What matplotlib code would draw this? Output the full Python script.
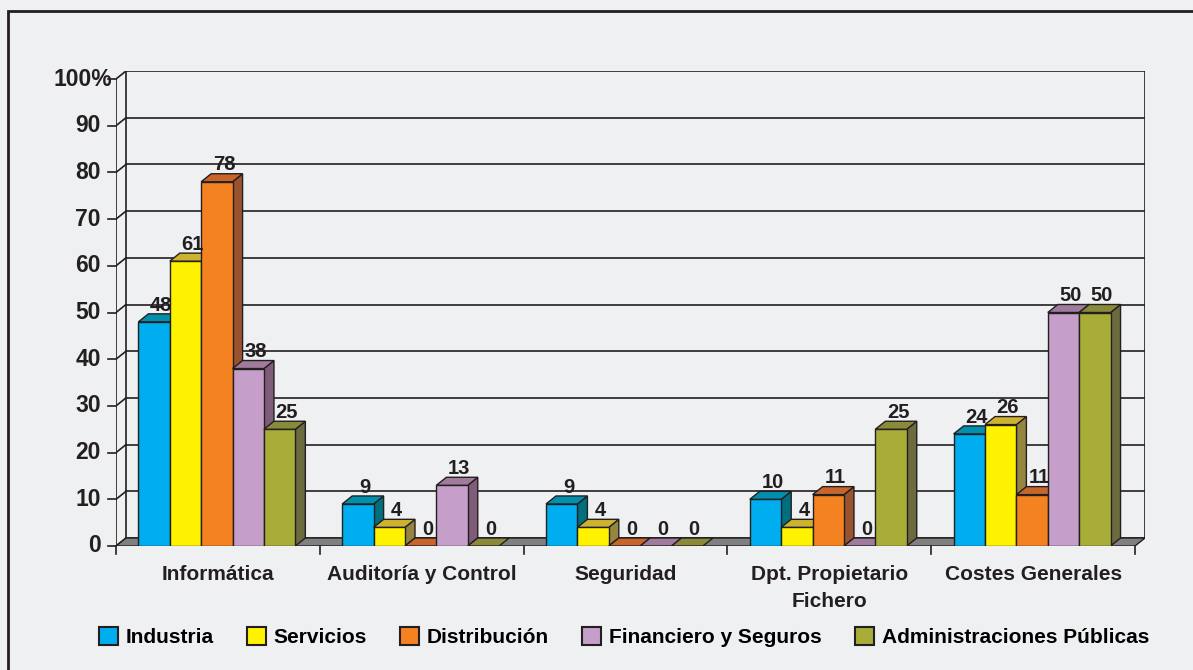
import matplotlib.pyplot as plt
from matplotlib.patches import Polygon, Rectangle, Patch

# ---- data ----
categories = ['Informática', 'Auditoría y Control', 'Seguridad',
              'Dpt. Propietario\nFichero', 'Costes Generales']
series_names = ['Industria', 'Servicios', 'Distribución',
                'Financiero y Seguros', 'Administraciones Públicas']
industria = [48, 9, 9, 10, 24]
servicios = [61, 4, 4, 4, 26]
distribucion = [78, 0, 0, 11, 11]
financiero = [38, 13, 0, 0, 50]
administraciones = [25, 0, 0, 25, 50]
yticks = [0, 10, 20, 30, 40, 50, 60, 70, 80, 90, 100]
ytick_labels = ['0', '10', '20', '30', '40', '50', '60', '70', '80', '90', '100%']

series_values = [industria, servicios, distribucion, financiero, administraciones]

# ---- style ----
BG = '#EFF0F2'
INK = '#231F20'
FLOOR = '#808080'
front_colors = ['#00AEEF', '#FFF200', '#F58220', '#C59FC9', '#A8AD38']
top_colors = ['#0090AE', '#CDB32E', '#C8652B', '#A17B9C', '#8A8B3A']
side_colors = ['#00707E', '#958540', '#99532F', '#7F5C79', '#6C6B40']

plt.rcParams['font.family'] = ['Liberation Sans', 'DejaVu Sans']
plt.rcParams['font.weight'] = 'bold'

W_PX, H_PX = 1193, 670
PX_X = 203.8          # pixels per category
PX_Y = 4.67           # pixels per percentage point
DX = 10 / PX_X        # depth offset (x units)
DY = 8 / PX_Y         # depth offset (y units)
BAR_W = 0.154
BAR_START = 0.11

fig = plt.figure(figsize=(W_PX / 100, H_PX / 100), dpi=100, facecolor=BG)
left, top, bottom = 116, 71, 546
ax = fig.add_axes([left / W_PX, (H_PX - bottom) / H_PX,
                   (5 + DX) * PX_X / W_PX, (bottom - top) / H_PX])
ax.set_xlim(0, 5 + DX)
ax.set_ylim(0, 100 + DY)
ax.axis('off')
ax.patch.set_alpha(0)

n_cat = len(categories)
lw = 1.2

# walls and gridlines
for v in yticks:
    ax.plot([DX, n_cat + DX], [v + DY, v + DY], color=INK, lw=lw, zorder=0.5)
    ax.plot([0, DX], [v, v + DY], color=INK, lw=lw, zorder=0.5)
    ax.plot([-8 / PX_X, 0], [v, v], color=INK, lw=lw, zorder=0.5, clip_on=False)
ax.plot([DX, DX], [DY, 100 + DY], color=INK, lw=lw, zorder=0.5)
ax.plot([n_cat + DX, n_cat + DX], [DY, 100 + DY], color=INK, lw=lw, zorder=0.5)
ax.plot([0, 0], [0, 100], color=INK, lw=lw, zorder=0.5)
for i in range(n_cat + 1):
    ax.plot([i, i], [0, -8 / PX_Y], color=INK, lw=lw, clip_on=False)

# floor
ax.add_patch(Polygon([(0, 0), (n_cat, 0), (n_cat + DX, DY), (DX, DY)],
                     facecolor=FLOOR, edgecolor=INK, lw=1, zorder=1))

# bars (drawn left to right so faces overlap correctly)
z = 2
for i in range(n_cat):
    for j, vals in enumerate(series_values):
        v = vals[i]
        x0 = i + BAR_START + j * BAR_W
        if v > 0:
            ax.add_patch(Polygon([(x0 + BAR_W, 0), (x0 + BAR_W + DX, DY),
                                  (x0 + BAR_W + DX, v + DY), (x0 + BAR_W, v)],
                                 facecolor=side_colors[j], edgecolor=INK, lw=1, zorder=z))
            ax.add_patch(Rectangle((x0, 0), BAR_W, v, facecolor=front_colors[j],
                                   edgecolor=INK, lw=1, zorder=z))
        ax.add_patch(Polygon([(x0, v), (x0 + BAR_W, v), (x0 + BAR_W + DX, v + DY),
                              (x0 + DX, v + DY)],
                             facecolor=top_colors[j], edgecolor=INK, lw=1, zorder=z))
        ax.text(x0 + BAR_W / 2 + DX * 0.7, v + DY + 0.7, str(v), ha='center',
                va='baseline', fontsize=14.5, fontweight='bold', color=INK, zorder=20)
        z += 1

# y tick labels
for v, lab in zip(yticks, ytick_labels):
    if lab.endswith('%'):
        ax.text(-62 / PX_X, v, lab, ha='left', va='center', fontsize=16.5,
                fontweight='bold', color=INK, clip_on=False)
    else:
        ax.text(-15 / PX_X, v, lab, ha='right', va='center', fontsize=16.5,
                fontweight='bold', color=INK, clip_on=False)

# category labels
for i, cat in enumerate(categories):
    ax.text(i + 0.5, -19 / PX_Y, cat, ha='center', va='top', fontsize=15,
            fontweight='bold', color=INK, linespacing=1.55, clip_on=False)

# legend
handles = [Patch(facecolor=c, edgecolor=INK, lw=1.5) for c in front_colors]
fs = 15
fs_px = fs * 100 / 72
fig.legend(handles, series_names, loc='center', ncol=5,
           bbox_to_anchor=(624 / W_PX, (H_PX - 637) / H_PX),
           frameon=False, handlelength=19 / fs_px,
           handleheight=19 / fs_px, handletextpad=8 / fs_px,
           columnspacing=33 / fs_px, borderpad=0, borderaxespad=0,
           prop={'weight': 'bold', 'size': fs})

# outer frame
fig.patches.append(Rectangle((8 / W_PX, -0.1), 1.2, (H_PX - 11) / H_PX + 0.1,
                             transform=fig.transFigure, fill=False,
                             edgecolor=INK, lw=2))

fig.savefig('out.png', dpi=100, facecolor=BG)
